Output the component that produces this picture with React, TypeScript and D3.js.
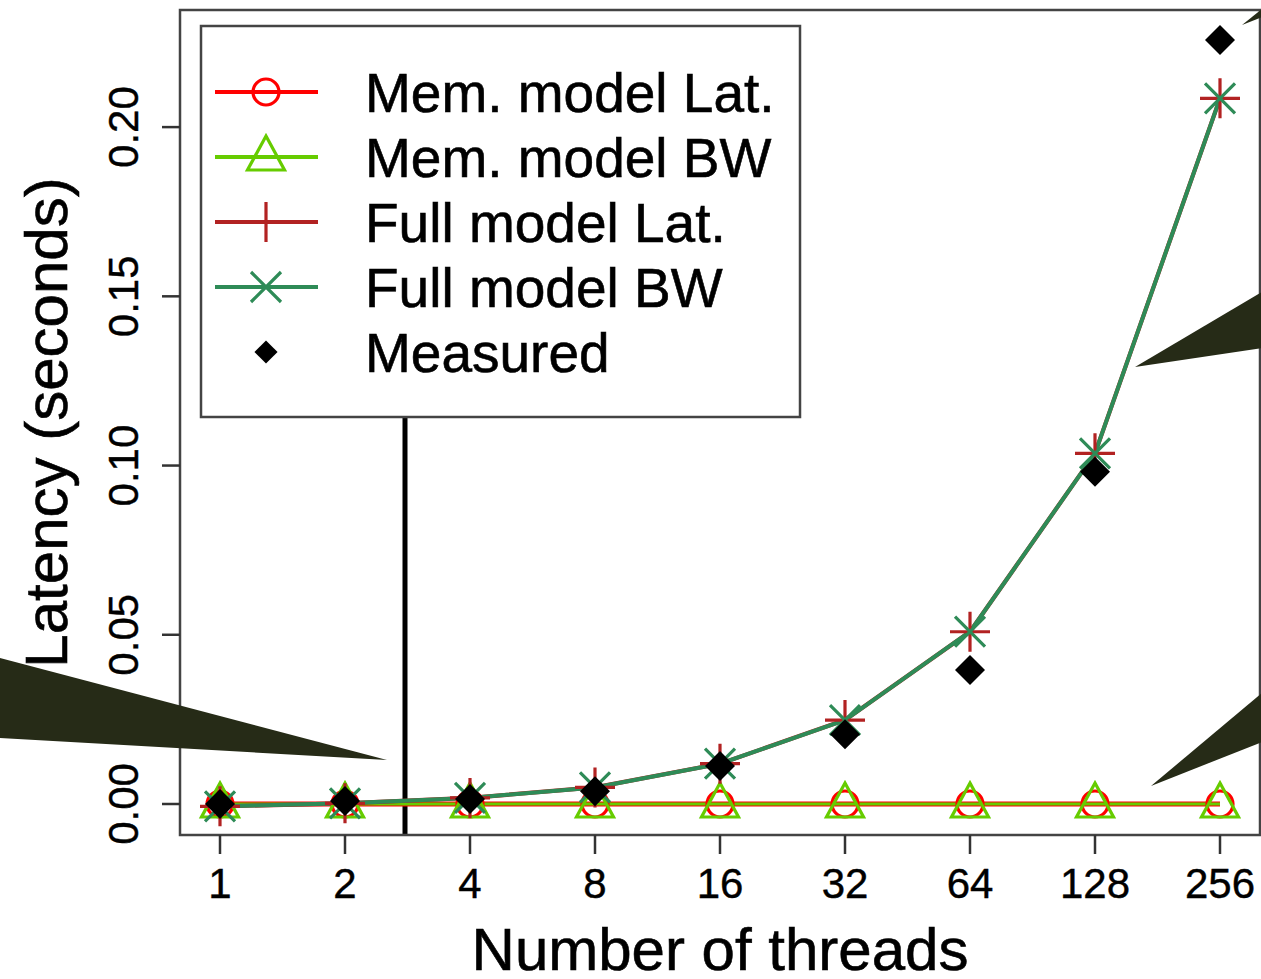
import React from 'react';
import * as d3 from 'd3';

// ---- data ----
const threads = ['1', '2', '4', '8', '16', '32', '64', '128', '256'];
const memLat = [0, 0, 0, 0, 0, 0, 0, 0, 0];
const memBW = [0, 0, 0, 0, 0, 0, 0, 0, 0];
const fullLat = [-0.0007, 0.0002, 0.0018, 0.0049, 0.0119, 0.0248, 0.0509, 0.1036, 0.2085];
const fullBW = [-0.0007, 0.0002, 0.0018, 0.0049, 0.0119, 0.0248, 0.0509, 0.1036, 0.2085];
const measured = [0.0, 0.0009, 0.0015, 0.0038, 0.0112, 0.0206, 0.0396, 0.0982, 0.2257];
const yTicks = [0, 0.05, 0.1, 0.15, 0.2];
const yTickLabels = ['0.00', '0.05', '0.10', '0.15', '0.20'];
const legendLabels = ['Mem. model Lat.', 'Mem. model BW', 'Full model Lat.', 'Full model BW', 'Measured'];
const splitIndex = 2.48; // vertical separator, in category-index units (1-based)

const W = 1261;
const H = 979;
const FONT = '"Liberation Sans", Arial, Helvetica, sans-serif';

const plot = { left: 180, right: 1260, top: 10, bottom: 835 };

const COLORS = {
  memLat: '#FF0000',
  memBW: '#66CC00',
  fullLat: '#B22222',
  fullBW: '#2E8B57',
  measured: '#000000',
  callout: '#262B17',
};

// decorative callout wedges (pixel space overlays)
const callouts: [number, number][][] = [
  [[0, 658], [387, 760], [0, 738]],
  [[1135, 367], [1262, 292], [1262, 348]],
  [[1151, 786], [1262, 693], [1262, 742]],
  [[1242, 25], [1262, 9], [1262, 17]],
];

type Shape = 'circle' | 'triangle' | 'plus' | 'cross' | 'diamond';

function Marker({ shape, x, y, color, size = 1 }: { shape: Shape; x: number; y: number; color: string; size?: number }) {
  const sw = 3.2;
  if (shape === 'circle') return <circle cx={x} cy={y} r={13} fill="none" stroke={color} strokeWidth={sw} />;
  if (shape === 'triangle')
    return (
      <polygon
        points={`${x},${y - 21} ${x + 18.5},${y + 13} ${x - 18.5},${y + 13}`}
        fill="none"
        stroke={color}
        strokeWidth={sw}
        strokeLinejoin="miter"
      />
    );
  if (shape === 'plus')
    return (
      <path d={`M${x - 20},${y}H${x + 20}M${x},${y - 20}V${y + 20}`} stroke={color} strokeWidth={sw} fill="none" />
    );
  if (shape === 'cross')
    return (
      <path
        d={`M${x - 15},${y - 15}L${x + 15},${y + 15}M${x - 15},${y + 15}L${x + 15},${y - 15}`}
        stroke={color}
        strokeWidth={sw}
        fill="none"
      />
    );
  const s = 15 * size;
  return <polygon points={`${x},${y - s} ${x + s},${y} ${x},${y + s} ${x - s},${y}`} fill={color} />;
}

export default function App() {
  const x = d3.scaleLinear().domain([0.68, 9.32]).range([plot.left, plot.right]);
  const y = d3.scaleLinear().domain([-0.00916, 0.2346]).range([plot.bottom, plot.top]);

  const line = d3
    .line<number>()
    .x((_, i) => x(i + 1))
    .y((d) => y(d));

  const series: { data: number[]; color: string; shape: Shape; lw: number; drawLine: boolean }[] = [
    { data: memLat, color: COLORS.memLat, shape: 'circle', lw: 5, drawLine: true },
    { data: memBW, color: COLORS.memBW, shape: 'triangle', lw: 3, drawLine: true },
    { data: fullLat, color: COLORS.fullLat, shape: 'plus', lw: 4.2, drawLine: true },
    { data: fullBW, color: COLORS.fullBW, shape: 'cross', lw: 4, drawLine: true },
    { data: measured, color: COLORS.measured, shape: 'diamond', lw: 0, drawLine: false },
  ];

  const legend = { left: 201, top: 26, right: 800, bottom: 417, rowY0: 92, rowStep: 65, lineX0: 215, lineX1: 318, markX: 266, textX: 365 };

  return (
    <svg width={W} height={H} style={{ position: 'absolute', left: 0, top: 0, background: '#fff' }} xmlns="http://www.w3.org/2000/svg">
      <rect x={0} y={0} width={W} height={H} fill="#fff" />

      {/* vertical separator */}
      <line x1={x(splitIndex)} x2={x(splitIndex)} y1={legend.bottom} y2={plot.bottom} stroke="#000" strokeWidth={5} />

      {/* series lines */}
      {series.map((s, si) =>
        s.drawLine ? <path key={'l' + si} d={line(s.data) || ''} fill="none" stroke={s.color} strokeWidth={s.lw} strokeLinejoin="round" /> : null
      )}
      {/* series markers */}
      {series.map((s, si) => (
        <g key={'m' + si}>
          {s.data.map((d, i) => (
            <Marker key={i} shape={s.shape} x={x(i + 1)} y={y(d)} color={s.color} />
          ))}
        </g>
      ))}

      {/* legend */}
      <rect
        x={legend.left}
        y={legend.top}
        width={legend.right - legend.left}
        height={legend.bottom - legend.top}
        fill="#fff"
        stroke="#444"
        strokeWidth={2.5}
      />
      {series.map((s, i) => {
        const ry = legend.rowY0 + i * legend.rowStep;
        return (
          <g key={'lg' + i}>
            {s.drawLine && <line x1={legend.lineX0} x2={legend.lineX1} y1={ry} y2={ry} stroke={s.color} strokeWidth={3.8} />}
            <Marker shape={s.shape} x={legend.markX} y={ry} color={s.color} size={0.77} />
            <text x={legend.textX} y={ry + 20} fontFamily={FONT} fontSize={55} fill="#000" stroke="#000" strokeWidth={0.6}>
              {legendLabels[i]}
            </text>
          </g>
        );
      })}

      {/* plot box */}
      <rect
        x={plot.left}
        y={plot.top}
        width={plot.right - plot.left}
        height={plot.bottom - plot.top}
        fill="none"
        stroke="#444"
        strokeWidth={2.5}
      />

      {/* x axis ticks and labels */}
      {threads.map((t, i) => (
        <g key={'xt' + i}>
          <line x1={x(i + 1)} x2={x(i + 1)} y1={plot.bottom} y2={plot.bottom + 19} stroke="#333" strokeWidth={2.5} />
          <text x={x(i + 1)} y={898} textAnchor="middle" fontFamily={FONT} fontSize={42} fill="#000" stroke="#000" strokeWidth={0.4}>
            {t}
          </text>
        </g>
      ))}

      {/* y axis ticks and labels */}
      {yTicks.map((v, i) => (
        <g key={'yt' + i}>
          <line x1={plot.left - 18} x2={plot.left} y1={y(v)} y2={y(v)} stroke="#333" strokeWidth={2.5} />
          <text
            transform={`translate(138,${y(v)}) rotate(-90)`}
            textAnchor="middle"
            fontFamily={FONT}
            fontSize={42}
            fill="#000"
            stroke="#000"
            strokeWidth={0.4}
          >
            {yTickLabels[i]}
          </text>
        </g>
      ))}

      {/* axis titles */}
      <text x={(plot.left + plot.right) / 2} y={970} textAnchor="middle" fontFamily={FONT} fontSize={60} fill="#000" stroke="#000" strokeWidth={0.6}>
        Number of threads
      </text>
      <text
        transform={`translate(67,${(plot.top + plot.bottom) / 2}) rotate(-90)`}
        textAnchor="middle"
        fontFamily={FONT}
        fontSize={60}
        fill="#000"
        stroke="#000"
        strokeWidth={0.6}
      >
        Latency (seconds)
      </text>

      {/* callout wedges */}
      {callouts.map((pts, i) => (
        <polygon key={'c' + i} points={pts.map((p) => p.join(',')).join(' ')} fill={COLORS.callout} />
      ))}
    </svg>
  );
}
